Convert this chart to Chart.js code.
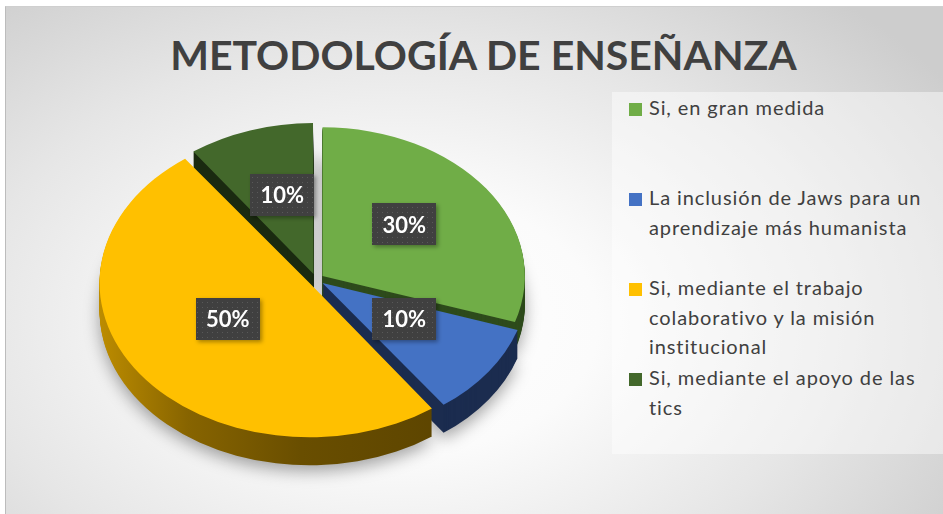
<!DOCTYPE html>
<html>
<head>
<meta charset="utf-8">
<script src="https://cdn.jsdelivr.net/npm/chart.js@4.4.1/dist/chart.umd.min.js"></script>
<style>
  html, body { margin: 0; padding: 0; background: #fff; }
  #wrap { position: relative; width: 943px; height: 514px; overflow: hidden; }
  #frame {
    position: absolute; left: 5px; top: 6px; width: 940px; height: 510px;
    border-left: 1px solid #bcbcbc; border-top: 1px solid #cfcfcf;
    background: radial-gradient(ellipse 70% 85% at 42% 62%, #ffffff 0%, #fbfbfb 30%, #e6e6e6 65%, #cdcdcd 100%);
  }
  #title {
    position: absolute; left: 0; width: 967px; top: 30px; text-align: center;
    font: bold 41px Lato, sans-serif; line-height: 1.2; color: #404040; white-space: nowrap;
  }
  #legend {
    position: absolute; left: 612px; top: 92px; width: 335px; height: 362px;
    background: rgba(255,255,255,0.45);
  }
  .item { position: absolute; left: 0; width: 335px; height: 90px; }
  .item i { position: absolute; left: 17px; top: 10px; width: 13px; height: 13px; }
  .item span {
    position: absolute; left: 37px; top: 0; font: 20px Lato, sans-serif; line-height: 29.5px;
    letter-spacing: 0.9px; color: #404040; white-space: nowrap;
  }
  #box { position: absolute; left: 0; top: 0; width: 943px; height: 514px; }
</style>
</head>
<body>
<div id="wrap">
  <div id="frame"></div>
  <div id="title"></div>
  <div id="legend"></div>
  <div id="box"><canvas id="chart"></canvas></div>
</div>
<script>
const chartTitle = 'METODOLOGÍA DE ENSEÑANZA';
const labels = [
  'Si, en gran medida',
  'La inclusión de Jaws para un aprendizaje más humanista',
  'Si, mediante el trabajo colaborativo y la misión institucional',
  'Si, mediante el apoyo de las tics'
];
const legendLines = [
  ['Si, en gran medida'],
  ['La inclusión de Jaws para un', 'aprendizaje más humanista'],
  ['Si, mediante el trabajo', 'colaborativo y la misión', 'institucional'],
  ['Si, mediante el apoyo de las', 'tics']
];
const values = [30, 10, 50, 10];
const colors = ['#70ad47', '#4472c4', '#ffc000', '#43682b'];
const sideColors = ['#2e4b1c', '#1b2c4f', 'yellowSide', '#1a2a10'];

const SQUASH = 0.735, DEPTH = 28, LABEL_R = 0.5, LABEL_SHIFT = -8;

// title + legend
document.getElementById('title').textContent = chartTitle;
const legendEl = document.getElementById('legend');
legendLines.forEach((lines, i) => {
  const d = document.createElement('div');
  d.className = 'item';
  d.style.top = (1 + i * 90) + 'px';
  d.innerHTML = `<i style="background:${colors[i]}"></i><span>${lines.join('<br>')}</span>`;
  legendEl.appendChild(d);
});

// dotted fill for the value boxes
const pat = document.createElement('canvas'); pat.width = 5; pat.height = 5;
const pctx = pat.getContext('2d');
pctx.fillStyle = '#404040'; pctx.fillRect(0, 0, 5, 5);
pctx.fillStyle = '#595959'; pctx.fillRect(2, 2, 1, 1);

function squash(ctx, cx, cy){ ctx.translate(cx, cy); ctx.scale(1, SQUASH); ctx.translate(-cx, -cy); }

function sideFill(ctx, c){
  if (c !== 'yellowSide') return c;
  const g = ctx.createLinearGradient(95, 0, 450, 0);
  g.addColorStop(0, '#c39100'); g.addColorStop(0.28, '#876400');
  g.addColorStop(0.6, '#694e00'); g.addColorStop(1, '#5d4500');
  return g;
}

function drawArcWith(el, ctx, fill){
  const o = el.options;
  el.options = Object.assign({}, o, {backgroundColor: fill, borderWidth: 0});
  el.draw(ctx);
  el.options = o;
}

const pie3d = {
  id: 'pie3d',
  beforeDatasetsDraw(chart){
    const ctx = chart.ctx, arcs = chart.getDatasetMeta(0).data;
    const cx = arcs[0].x, cy = arcs[0].y;
    const fills = sideColors.map(c => sideFill(ctx, c));
    for (let d = DEPTH; d >= 1; d--) {
      ctx.save();
      if (d === DEPTH) { ctx.shadowColor = 'rgba(0,0,0,0.35)'; ctx.shadowBlur = 16; ctx.shadowOffsetY = 6; }
      ctx.translate(0, d);
      squash(ctx, cx, cy);
      arcs.forEach((el, i) => drawArcWith(el, ctx, fills[i]));
      ctx.restore();
    }
    ctx.save();
    squash(ctx, cx, cy);
  },
  afterDatasetsDraw(chart){
    const ctx = chart.ctx;
    ctx.restore();
    const arcs = chart.getDatasetMeta(0).data;
    const total = values.reduce((a, b) => a + b, 0);
    arcs.forEach((el, i) => {
      const p = el.getProps(['x', 'y', 'startAngle', 'endAngle', 'outerRadius'], true);
      const mid = (p.startAngle + p.endAngle) / 2;
      const rr = (el.options.offset || 0) / 4 + p.outerRadius * LABEL_R;
      const x = p.x + Math.cos(mid) * rr;
      const y = p.y + Math.sin(mid) * rr * SQUASH + LABEL_SHIFT;
      const w = 64, h = 42;
      ctx.save();
      ctx.shadowColor = 'rgba(0,0,0,0.35)'; ctx.shadowBlur = 4; ctx.shadowOffsetX = 2; ctx.shadowOffsetY = 2;
      ctx.fillStyle = ctx.createPattern(pat, 'repeat');
      ctx.fillRect(Math.round(x - w / 2), Math.round(y - h / 2), w, h);
      ctx.restore();
      ctx.save();
      ctx.fillStyle = '#ffffff';
      ctx.font = 'bold 22px Lato, sans-serif';
      ctx.textAlign = 'center'; ctx.textBaseline = 'middle';
      ctx.fillText(Math.round(values[i] / total * 100) + '%', x, y + 1);
      ctx.restore();
    });
  }
};

new Chart(document.getElementById('chart'), {
  type: 'pie',
  data: {
    labels: labels,
    datasets: [{
      data: values,
      backgroundColor: colors,
      borderWidth: 0,
      offset: 32,
      radius: 202,
      clip: false
    }]
  },
  options: {
    responsive: true,
    maintainAspectRatio: false,
    animation: false,
    events: [],
    layout: { padding: { left: 0, right: 311, top: 45, bottom: 0 } },
    plugins: { legend: { display: false }, tooltip: { enabled: false }, title: { display: false } }
  },
  plugins: [pie3d]
});
</script>
</body>
</html>
